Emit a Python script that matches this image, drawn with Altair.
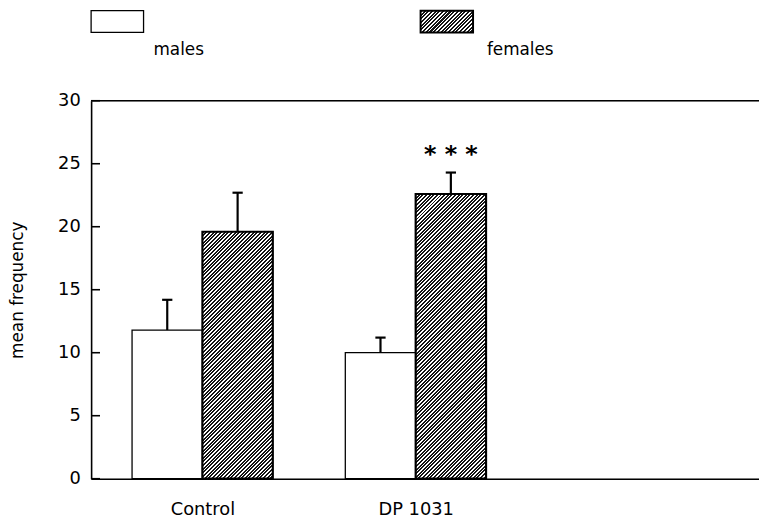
import altair as alt
import pandas as pd

# ---------------- data ----------------
groups = ["Control", "DP 1031"]
sexes = ["males", "females"]
mean_males = [11.8, 10.0]
mean_females = [19.6, 22.6]
err_males = [2.4, 1.2]
err_females = [3.1, 1.7]
signif = ["", "* * *"]
y_ticks = [0, 5, 10, 15, 20, 25, 30]

# ---------------- layout / style ----------------
W, H = 675, 382
BAR_W = 0.33
CAP = 0.024
X_DOMAIN = [0.478, 3.61]
Y_DOMAIN = [0, 30]
FONT = "DejaVu Sans"

xs = alt.Scale(domain=X_DOMAIN, nice=False, zero=False)
ys = alt.Scale(domain=Y_DOMAIN, nice=False, zero=False)

rows = []
for i, g in enumerate(groups):
    pos = i + 1
    rows.append(dict(group=g, sex="males", x0=pos - BAR_W, x1=pos,
                     mean=mean_males[i], top=mean_males[i] + err_males[i]))
    rows.append(dict(group=g, sex="females", x0=pos, x1=pos + BAR_W,
                     mean=mean_females[i], top=mean_females[i] + err_females[i]))
bars = pd.DataFrame(rows)
bars["xc"] = (bars["x0"] + bars["x1"]) / 2
bars["c0"] = bars["xc"] - CAP
bars["c1"] = bars["xc"] + CAP


def hatch(w, h, period=2.6, dark=0.55, c1="#151515", c2="#ffffff"):
    a, b = 1.0 / h, 1.0 / w
    c = (a + b) / (a * a + b * b)
    gx, gy = c * a, c * b
    n = max(1, round((w + h) / 2 ** 0.5 / period))
    stops = []
    for k in range(n):
        o0, o1, o2 = k / n, (k + dark) / n, (k + 1) / n
        stops += [alt.GradientStop(color=c1, offset=o0),
                  alt.GradientStop(color=c1, offset=o1),
                  alt.GradientStop(color=c2, offset=o1),
                  alt.GradientStop(color=c2, offset=o2)]
    return alt.LinearGradient(gradient="linear", stops=stops,
                              x1=0, y1=0, x2=gx, y2=gy)


px_per_x = W / (X_DOMAIN[1] - X_DOMAIN[0])
bar_px_w = BAR_W * px_per_x

X = lambda f: alt.X(f, type="quantitative", scale=xs,
                    axis=alt.Axis(values=[1, 2],
                                  labelExpr="datum.value == 1 ? '%s' : '%s'" % (groups[0], groups[1]),
                                  ticks=False, grid=False, title=None,
                                  domainColor="black", domainWidth=1.6,
                                  labelFont=FONT, labelFontSize=18, labelColor="black",
                                  labelPadding=22))
Y = lambda f: alt.Y(f, type="quantitative", scale=ys,
                    axis=alt.Axis(values=y_ticks, ticks=False, grid=False,
                                  title="mean frequency", titleFont=FONT,
                                  titleFontSize=17, titleFontWeight="normal",
                                  titleColor="black", titlePadding=31,
                                  domainColor="black", domainWidth=1.6,
                                  labelFont=FONT, labelFontSize=18, labelColor="black",
                                  labelPadding=11))

layers = []

# male bars
layers.append(
    alt.Chart(bars[bars.sex == "males"]).mark_bar(
        fill="white", stroke="black", strokeWidth=1.3
    ).encode(x=X("x0"), x2="x1", y=Y("mean"), y2=alt.datum(0))
)
# female bars (hatched)
for g in groups:
    sub = bars[(bars.sex == "females") & (bars.group == g)]
    hpx = float(sub["mean"].iloc[0]) * H / (Y_DOMAIN[1] - Y_DOMAIN[0])
    layers.append(
        alt.Chart(sub).mark_bar(
            fill=hatch(bar_px_w, hpx), stroke="black", strokeWidth=2.2
        ).encode(x=X("x0"), x2="x1", y=Y("mean"), y2=alt.datum(0))
    )

# error bars
layers.append(
    alt.Chart(bars).mark_rule(color="black", strokeWidth=2.2).encode(
        x=X("xc"), y=Y("mean"), y2="top")
)
layers.append(
    alt.Chart(bars).mark_rule(color="black", strokeWidth=2.2).encode(
        x=X("c0"), x2="c1", y=Y("top"))
)

# significance stars
stars = bars[bars.sex == "females"].copy()
stars["label"] = signif
layers.append(
    alt.Chart(stars).mark_text(font=FONT, fontSize=24, fontWeight="bold",
                               baseline="alphabetic", dy=-11, color="black").encode(
        x=X("xc"), y=Y("top"), text="label:N")
)

# inward y ticks
layers.append(
    alt.Chart(pd.DataFrame({"t": y_ticks})).mark_rule(color="black", strokeWidth=1.6).encode(
        y=Y("t"), x=alt.value(0), x2=alt.value(9))
)

one = pd.DataFrame({"a": [0]})
# top frame line
layers.append(
    alt.Chart(one).mark_rule(color="black", strokeWidth=1.6).encode(
        x=alt.value(0), x2=alt.value(W), y=alt.value(0))
)

# legend (boxes above the plot, labels below-right of boxes)
leg_box_x = [0, 333]
leg_text_x = [63, 400]
for k, s in enumerate(sexes):
    if s == "males":
        mk = alt.Chart(one).mark_rect(fill="white", stroke="black", strokeWidth=1.3)
    else:
        mk = alt.Chart(one).mark_rect(fill=hatch(53, 22), stroke="black", strokeWidth=2)
    layers.append(mk.encode(x=alt.value(leg_box_x[k]), x2=alt.value(leg_box_x[k] + 53),
                            y=alt.value(-91), y2=alt.value(-69)))
    layers.append(
        alt.Chart(pd.DataFrame({"s": [s]})).mark_text(
            font=FONT, fontSize=17, align="left", baseline="alphabetic", color="black"
        ).encode(x=alt.value(leg_text_x[k]), y=alt.value(-46), text="s:N")
    )

chart = alt.layer(*layers).properties(
    width=W, height=H,
    autosize=alt.AutoSizeParams(type="none"),
    padding={"left": 84, "top": 91, "right": 0, "bottom": 38},
).configure_view(stroke=None).configure(background="white")

chart.save("out.html", embed_options={"renderer": "svg", "actions": False})
